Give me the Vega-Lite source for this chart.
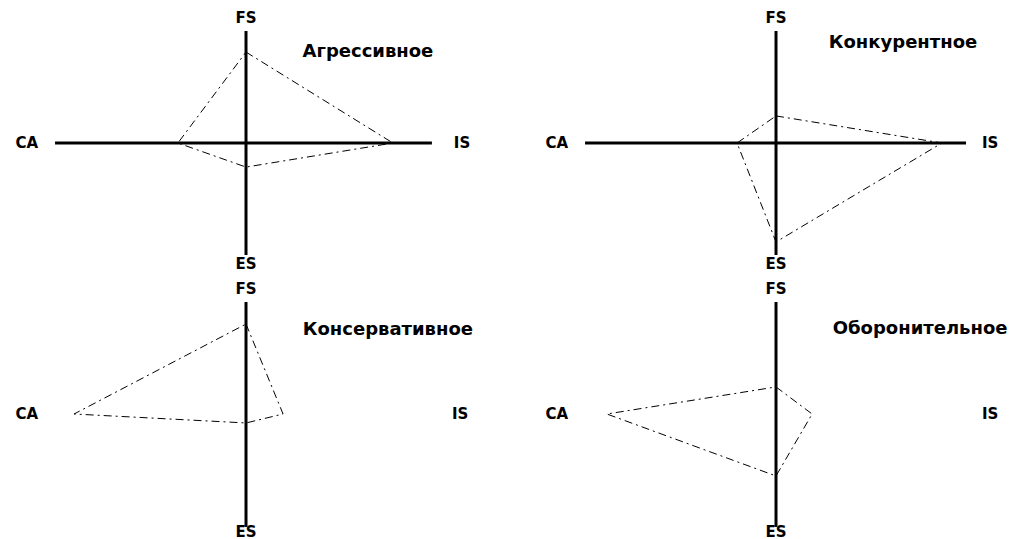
{
  "$schema": "https://vega.github.io/schema/vega-lite/v6.json",
  "padding": 0,
  "config": {"view": {"stroke": null}, "concat": {"spacing": 0}},
  "datasets": {
    "axes": [
      {"p": "A", "x": -6.03, "x2": 5.87, "y": 0, "y2": 0},
      {"p": "A", "x": 0, "x2": 0, "y": 6.0, "y2": -6.0},
      {"p": "B", "x": -6.03, "x2": 6.0, "y": 0, "y2": 0},
      {"p": "B", "x": 0, "x2": 0, "y": 6.0, "y2": -6.0},
      {"p": "C", "x": 0, "x2": 0, "y": 6.0, "y2": -6.05},
      {"p": "D", "x": 0, "x2": 0, "y": 6.0, "y2": -6.05}
    ],
    "shape": [
      {"p": "A", "k": 0, "axis": "FS", "x": 0, "y": 4.87},
      {"p": "A", "k": 1, "axis": "IS", "x": 4.64, "y": 0},
      {"p": "A", "k": 2, "axis": "ES", "x": 0, "y": -1.29},
      {"p": "A", "k": 3, "axis": "CA", "x": -2.15, "y": 0},
      {"p": "A", "k": 4, "axis": "FS", "x": 0, "y": 4.87},
      {"p": "B", "k": 0, "axis": "FS", "x": 0, "y": 1.45},
      {"p": "B", "k": 1, "axis": "IS", "x": 5.24, "y": 0},
      {"p": "B", "k": 2, "axis": "ES", "x": 0, "y": -5.3},
      {"p": "B", "k": 3, "axis": "CA", "x": -1.23, "y": 0},
      {"p": "B", "k": 4, "axis": "FS", "x": 0, "y": 1.45},
      {"p": "C", "k": 0, "axis": "FS", "x": 0, "y": 4.82},
      {"p": "C", "k": 1, "axis": "IS", "x": 1.17, "y": 0},
      {"p": "C", "k": 2, "axis": "ES", "x": 0, "y": -0.48},
      {"p": "C", "k": 3, "axis": "CA", "x": -5.43, "y": 0},
      {"p": "C", "k": 4, "axis": "FS", "x": 0, "y": 4.82},
      {"p": "D", "k": 0, "axis": "FS", "x": 0, "y": 1.45},
      {"p": "D", "k": 1, "axis": "IS", "x": 1.14, "y": 0},
      {"p": "D", "k": 2, "axis": "ES", "x": 0, "y": -3.32},
      {"p": "D", "k": 3, "axis": "CA", "x": -5.34, "y": 0},
      {"p": "D", "k": 4, "axis": "FS", "x": 0, "y": 1.45}
    ],
    "labels": [
      {"p": "A", "t": "FS", "x": 0, "y": 6.7},
      {"p": "A", "t": "CA", "x": -6.92, "y": 0},
      {"p": "A", "t": "IS", "x": 6.82, "y": 0},
      {"p": "A", "t": "ES", "x": 0, "y": -6.48},
      {"p": "B", "t": "FS", "x": 0, "y": 6.7},
      {"p": "B", "t": "CA", "x": -6.92, "y": 0},
      {"p": "B", "t": "IS", "x": 6.76, "y": 0},
      {"p": "B", "t": "ES", "x": 0, "y": -6.48},
      {"p": "C", "t": "FS", "x": 0, "y": 6.7},
      {"p": "C", "t": "CA", "x": -6.92, "y": 0},
      {"p": "C", "t": "IS", "x": 6.76, "y": 0},
      {"p": "C", "t": "ES", "x": 0, "y": -6.3},
      {"p": "D", "t": "FS", "x": 0, "y": 6.7},
      {"p": "D", "t": "CA", "x": -6.92, "y": 0},
      {"p": "D", "t": "IS", "x": 6.76, "y": 0},
      {"p": "D", "t": "ES", "x": 0, "y": -6.3}
    ],
    "titles": [
      {"p": "A", "t": "Агрессивное", "x": 3.85, "y": 4.87},
      {"p": "B", "t": "Конкурентное", "x": 4.01, "y": 5.36},
      {"p": "C", "t": "Консервативное", "x": 4.48, "y": 4.5},
      {"p": "D", "t": "Оборонительное", "x": 4.55, "y": 4.55}
    ]
  },
  "vconcat": [
    {
      "hconcat": [
        {
          "width": 512, "height": 270,
          "layer": [
            {"data": {"name": "axes"}, "transform": [{"filter": "datum.p == 'A'"}],
             "mark": {"type": "rule", "strokeWidth": 3, "color": "black"},
             "encoding": {
               "x": {"field": "x", "type": "quantitative", "scale": {"domain": [-7.768, 8.399], "nice": false, "zero": false}, "axis": null},
               "y": {"field": "y", "type": "quantitative", "scale": {"domain": [-6.802, 7.659], "nice": false, "zero": false}, "axis": null},
               "x2": {"field": "x2"}, "y2": {"field": "y2"}}},
            {"data": {"name": "shape"}, "transform": [{"filter": "datum.p == 'A'"}],
             "mark": {"type": "line", "strokeWidth": 1, "color": "black", "strokeDash": [8, 4, 2, 4]},
             "encoding": {
               "x": {"field": "x", "type": "quantitative"},
               "y": {"field": "y", "type": "quantitative"},
               "order": {"field": "k", "type": "quantitative"}}},
            {"data": {"name": "labels"}, "transform": [{"filter": "datum.p == 'A'"}],
             "mark": {"type": "text", "font": "DejaVu Sans", "fontWeight": "bold", "fontSize": 15, "align": "center", "baseline": "middle", "color": "black"},
             "encoding": {"x": {"field": "x", "type": "quantitative"}, "y": {"field": "y", "type": "quantitative"}, "text": {"field": "t"}}},
            {"data": {"name": "titles"}, "transform": [{"filter": "datum.p == 'A'"}],
             "mark": {"type": "text", "font": "DejaVu Sans", "fontWeight": "bold", "fontSize": 18, "align": "center", "baseline": "middle", "color": "black"},
             "encoding": {"x": {"field": "x", "type": "quantitative"}, "y": {"field": "y", "type": "quantitative"}, "text": {"field": "t"}}}
          ]
        },
        {
          "width": 513, "height": 270,
          "layer": [
            {"data": {"name": "axes"}, "transform": [{"filter": "datum.p == 'B'"}],
             "mark": {"type": "rule", "strokeWidth": 3, "color": "black"},
             "encoding": {
               "x": {"field": "x", "type": "quantitative", "scale": {"domain": [-8.336, 7.862], "nice": false, "zero": false}, "axis": null},
               "y": {"field": "y", "type": "quantitative", "scale": {"domain": [-6.802, 7.659], "nice": false, "zero": false}, "axis": null},
               "x2": {"field": "x2"}, "y2": {"field": "y2"}}},
            {"data": {"name": "shape"}, "transform": [{"filter": "datum.p == 'B'"}],
             "mark": {"type": "line", "strokeWidth": 1, "color": "black", "strokeDash": [8, 4, 2, 4]},
             "encoding": {
               "x": {"field": "x", "type": "quantitative"},
               "y": {"field": "y", "type": "quantitative"},
               "order": {"field": "k", "type": "quantitative"}}},
            {"data": {"name": "labels"}, "transform": [{"filter": "datum.p == 'B'"}],
             "mark": {"type": "text", "font": "DejaVu Sans", "fontWeight": "bold", "fontSize": 15, "align": "center", "baseline": "middle", "color": "black"},
             "encoding": {"x": {"field": "x", "type": "quantitative"}, "y": {"field": "y", "type": "quantitative"}, "text": {"field": "t"}}},
            {"data": {"name": "titles"}, "transform": [{"filter": "datum.p == 'B'"}],
             "mark": {"type": "text", "font": "DejaVu Sans", "fontWeight": "bold", "fontSize": 18, "align": "center", "baseline": "middle", "color": "black"},
             "encoding": {"x": {"field": "x", "type": "quantitative"}, "y": {"field": "y", "type": "quantitative"}, "text": {"field": "t"}}}
          ]
        }
      ]
    },
    {
      "hconcat": [
        {
          "width": 512, "height": 269,
          "layer": [
            {"data": {"name": "axes"}, "transform": [{"filter": "datum.p == 'C'"}],
             "mark": {"type": "rule", "strokeWidth": 3, "color": "black"},
             "encoding": {
               "x": {"field": "x", "type": "quantitative", "scale": {"domain": [-7.768, 8.399], "nice": false, "zero": false}, "axis": null},
               "y": {"field": "y", "type": "quantitative", "scale": {"domain": [-6.802, 7.606], "nice": false, "zero": false}, "axis": null},
               "x2": {"field": "x2"}, "y2": {"field": "y2"}}},
            {"data": {"name": "shape"}, "transform": [{"filter": "datum.p == 'C'"}],
             "mark": {"type": "line", "strokeWidth": 1, "color": "black", "strokeDash": [8, 4, 2, 4]},
             "encoding": {
               "x": {"field": "x", "type": "quantitative"},
               "y": {"field": "y", "type": "quantitative"},
               "order": {"field": "k", "type": "quantitative"}}},
            {"data": {"name": "labels"}, "transform": [{"filter": "datum.p == 'C'"}],
             "mark": {"type": "text", "font": "DejaVu Sans", "fontWeight": "bold", "fontSize": 15, "align": "center", "baseline": "middle", "color": "black"},
             "encoding": {"x": {"field": "x", "type": "quantitative"}, "y": {"field": "y", "type": "quantitative"}, "text": {"field": "t"}}},
            {"data": {"name": "titles"}, "transform": [{"filter": "datum.p == 'C'"}],
             "mark": {"type": "text", "font": "DejaVu Sans", "fontWeight": "bold", "fontSize": 18, "align": "center", "baseline": "middle", "color": "black"},
             "encoding": {"x": {"field": "x", "type": "quantitative"}, "y": {"field": "y", "type": "quantitative"}, "text": {"field": "t"}}}
          ]
        },
        {
          "width": 513, "height": 269,
          "layer": [
            {"data": {"name": "axes"}, "transform": [{"filter": "datum.p == 'D'"}],
             "mark": {"type": "rule", "strokeWidth": 3, "color": "black"},
             "encoding": {
               "x": {"field": "x", "type": "quantitative", "scale": {"domain": [-8.336, 7.862], "nice": false, "zero": false}, "axis": null},
               "y": {"field": "y", "type": "quantitative", "scale": {"domain": [-6.802, 7.606], "nice": false, "zero": false}, "axis": null},
               "x2": {"field": "x2"}, "y2": {"field": "y2"}}},
            {"data": {"name": "shape"}, "transform": [{"filter": "datum.p == 'D'"}],
             "mark": {"type": "line", "strokeWidth": 1, "color": "black", "strokeDash": [8, 4, 2, 4]},
             "encoding": {
               "x": {"field": "x", "type": "quantitative"},
               "y": {"field": "y", "type": "quantitative"},
               "order": {"field": "k", "type": "quantitative"}}},
            {"data": {"name": "labels"}, "transform": [{"filter": "datum.p == 'D'"}],
             "mark": {"type": "text", "font": "DejaVu Sans", "fontWeight": "bold", "fontSize": 15, "align": "center", "baseline": "middle", "color": "black"},
             "encoding": {"x": {"field": "x", "type": "quantitative"}, "y": {"field": "y", "type": "quantitative"}, "text": {"field": "t"}}},
            {"data": {"name": "titles"}, "transform": [{"filter": "datum.p == 'D'"}],
             "mark": {"type": "text", "font": "DejaVu Sans", "fontWeight": "bold", "fontSize": 18, "align": "center", "baseline": "middle", "color": "black"},
             "encoding": {"x": {"field": "x", "type": "quantitative"}, "y": {"field": "y", "type": "quantitative"}, "text": {"field": "t"}}}
          ]
        }
      ]
    }
  ]
}
